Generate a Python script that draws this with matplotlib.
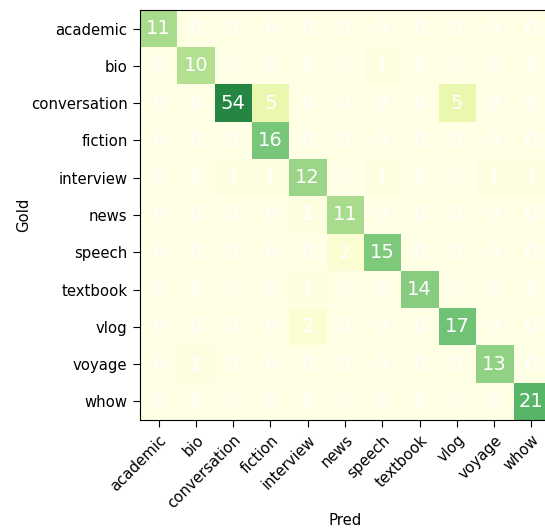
import numpy as np
import matplotlib
matplotlib.use("Agg")
import matplotlib.pyplot as plt
from matplotlib.colors import FuncNorm, ListedColormap

labels = ["academic", "bio", "conversation", "fiction", "interview", "news",
          "speech", "textbook", "vlog", "voyage", "whow"]

# rows = gold, columns = predicted
academic =     [11, 0, 0, 0, 0, 0, 0, 0, 0, 0, 0]
bio =          [0, 10, 0, 0, 0, 0, 1, 0, 0, 0, 0]
conversation = [0, 0, 54, 5, 0, 0, 0, 0, 5, 0, 0]
fiction =      [0, 0, 0, 16, 0, 0, 0, 0, 0, 0, 0]
interview =    [0, 0, 1, 1, 12, 0, 1, 0, 0, 1, 1]
news =         [0, 0, 0, 0, 1, 11, 0, 0, 0, 0, 0]
speech =       [0, 0, 0, 0, 0, 2, 15, 0, 0, 0, 0]
textbook =     [0, 0, 0, 0, 1, 0, 0, 14, 0, 0, 0]
vlog =         [0, 0, 0, 0, 2, 0, 0, 0, 17, 0, 0]
voyage =       [0, 1, 0, 0, 0, 0, 0, 0, 0, 13, 0]
whow =         [0, 0, 0, 0, 0, 0, 0, 0, 0, 0, 21]

cm = np.array([academic, bio, conversation, fiction, interview, news,
               speech, textbook, vlog, voyage, whow])

K = 40.35
def fwd(x):
    x = np.clip(x, 0, None) ** 1.5
    return x / (x + K)

def inv(y):
    y = np.clip(y, 0, 0.999999)
    return (y * K / (1 - y)) ** (2 / 3)

cmap = ListedColormap(plt.get_cmap("YlGn")(np.linspace(0, 0.74, 256)))
norm = FuncNorm((fwd, inv), vmin=0, vmax=cm.max())

fig = plt.figure(figsize=(5.45, 5.28), dpi=100)
# right edge of the matrix runs slightly past the canvas
ax = fig.add_axes([140 / 545, 108 / 528, 410 / 545, 410 / 528])
ax.imshow(cm, cmap=cmap, norm=norm, aspect="auto")

for i in range(cm.shape[0]):
    for j in range(cm.shape[1]):
        ax.text(j, i, str(cm[i, j]), ha="center", va="center",
                color="white", fontsize=14)

ax.set_xticks(range(len(labels)))
ax.set_yticks(range(len(labels)))
ax.set_xticklabels(labels, rotation=45, ha="right", rotation_mode="anchor",
                   fontsize=10.7)
ax.set_yticklabels(labels, fontsize=10.7)
ax.tick_params(length=5, pad=4)
ax.set_xlabel("Pred", fontsize=10.7, labelpad=1)
ax.set_ylabel("Gold", fontsize=10.7, labelpad=0)

fig.savefig("out.png", dpi=100)
